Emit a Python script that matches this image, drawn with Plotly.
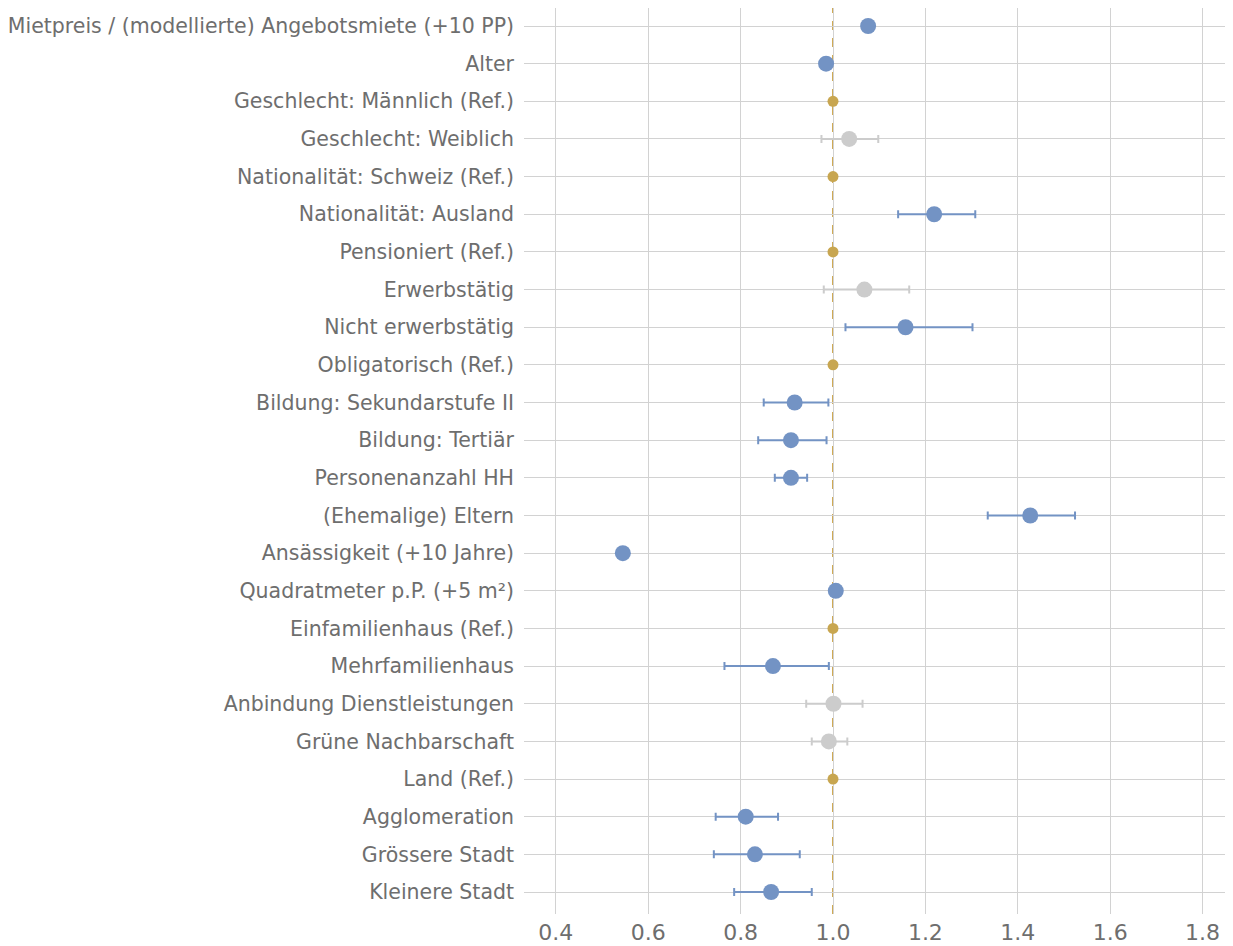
import plotly.graph_objects as go

categories = [
    "Mietpreis / (modellierte) Angebotsmiete (+10 PP)",
    "Alter",
    "Geschlecht: Männlich (Ref.)",
    "Geschlecht: Weiblich",
    "Nationalität: Schweiz (Ref.)",
    "Nationalität: Ausland",
    "Pensioniert (Ref.)",
    "Erwerbstätig",
    "Nicht erwerbstätig",
    "Obligatorisch (Ref.)",
    "Bildung: Sekundarstufe II",
    "Bildung: Tertiär",
    "Personenanzahl HH",
    "(Ehemalige) Eltern",
    "Ansässigkeit (+10 Jahre)",
    "Quadratmeter p.P. (+5 m²)",
    "Einfamilienhaus (Ref.)",
    "Mehrfamilienhaus",
    "Anbindung Dienstleistungen",
    "Grüne Nachbarschaft",
    "Land (Ref.)",
    "Agglomeration",
    "Grössere Stadt",
    "Kleinere Stadt",
]
estimate = [1.076, 0.985, 1.0, 1.035, 1.0, 1.219, 1.0, 1.068, 1.157, 1.0,
            0.917, 0.909, 0.909, 1.427, 0.545, 1.006, 1.0, 0.870, 1.001, 0.991,
            1.0, 0.811, 0.831, 0.866]
lower = [1.076, 0.985, 1.0, 0.975, 1.0, 1.141, 1.0, 0.980, 1.027, 1.0,
         0.850, 0.838, 0.874, 1.335, 0.545, 1.006, 1.0, 0.765, 0.942, 0.954,
         1.0, 0.746, 0.742, 0.786]
upper = [1.076, 0.985, 1.0, 1.098, 1.0, 1.308, 1.0, 1.165, 1.302, 1.0,
         0.990, 0.986, 0.944, 1.524, 0.545, 1.006, 1.0, 0.991, 1.064, 1.031,
         1.0, 0.881, 0.928, 0.954]
# "sig" = significant, "ns" = not significant, "ref" = reference category
group = ["sig", "sig", "ref", "ns", "ref", "sig", "ref", "ns", "sig", "ref",
         "sig", "sig", "sig", "sig", "sig", "sig", "ref", "sig", "ns", "ns",
         "ref", "sig", "sig", "sig"]
x_ticks = [0.4, 0.6, 0.8, 1.0, 1.2, 1.4, 1.6, 1.8]
reference_value = 1.0

styles = {
    "sig": dict(color="#7393C4", size=16),
    "ns": dict(color="#CCCCCC", size=16),
    "ref": dict(color="#C8A650", size=11),
}

fig = go.Figure()
fig.add_shape(type="line", x0=reference_value, x1=reference_value, y0=0, y1=1,
              xref="x", yref="paper", layer="between",
              line=dict(color="#CFAA55", width=2, dash="9px,8px"))

for g in ["ref", "ns", "sig"]:
    idx = [i for i, v in enumerate(group) if v == g]
    xs = [estimate[i] for i in idx]
    ys = [categories[i] for i in idx]
    plus = [upper[i] - estimate[i] for i in idx]
    minus = [estimate[i] - lower[i] for i in idx]
    st = styles[g]
    has_err = any(p > 0 for p in plus) or any(m > 0 for m in minus)
    fig.add_trace(go.Scatter(
        x=xs, y=ys, mode="markers",
        marker=dict(color=st["color"], size=st["size"], line=dict(width=0)),
        error_x=dict(type="data", array=plus, arrayminus=minus, symmetric=False,
                     color=st["color"], thickness=2, width=4,
                     visible=has_err),
        showlegend=False, hoverinfo="x+y",
    ))

font_family = "'DejaVu Sans', Arial, sans-serif"
n = len(categories)
fig.update_layout(
    width=1233, height=938,
    margin=dict(l=516, r=8, t=0, b=32),
    plot_bgcolor="white", paper_bgcolor="white",
    font=dict(family=font_family, size=20, color="#6E6E6E"),
    xaxis=dict(range=[0.331, 1.866], tickvals=x_ticks,
               ticktext=[f"{v:.1f}" for v in x_ticks],
               showgrid=True, gridcolor="#D2D2D2", gridwidth=1,
               zeroline=False, showline=False, ticks="",
               ticklabelstandoff=3,
               tickfont=dict(size=22, color="#6E6E6E"), automargin=False),
    yaxis=dict(categoryorder="array", categoryarray=categories,
               range=[n - 1 + 0.584, -0.478],
               showgrid=True, gridcolor="#D2D2D2", gridwidth=1,
               zeroline=False, showline=False, ticks="",
               ticklabelstandoff=9,
               tickfont=dict(size=20.5, color="#6E6E6E"), automargin=False),
)

fig.write_html("out.html")
